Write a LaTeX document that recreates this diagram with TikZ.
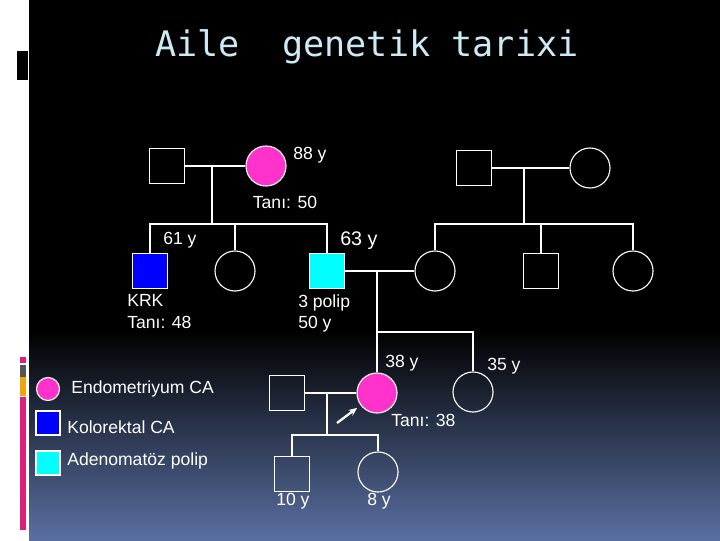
\documentclass[tikz,border=0pt]{standalone}
\usepackage{fontspec}
\setmainfont{Liberation Sans}
\newfontfamily\titlefont{DejaVu Sans Mono}
\usetikzlibrary{positioning, arrows.meta}

\definecolor{endo}{RGB}{255,51,204}
\definecolor{krkblue}{RGB}{0,0,255}
\definecolor{polipcyan}{RGB}{0,255,255}
\definecolor{titlecol}{RGB}{205,235,245}
\definecolor{bgbottom}{RGB}{90,112,162}
\definecolor{barpink}{RGB}{222,30,122}
\definecolor{bargrey}{RGB}{85,85,85}
\definecolor{barorange}{RGB}{240,165,10}

\begin{document}
\begin{tikzpicture}[x=0.025cm,y=-0.025cm]
\useasboundingbox (0,0) rectangle (720,540);
% background
\fill[white] (0,0) rectangle (720,540);
\fill[black] (29,0) rectangle (720,330);
\shade[top color=black,bottom color=bgbottom] (29,330) rectangle (720,540);
\fill[black] (17,51) rectangle (28,80);
\fill[barpink] (20,357) rectangle (26,363);
\fill[bargrey] (20,365) rectangle (26,377);
\fill[barorange] (20,377) rectangle (26,396);
\fill[barpink] (20,397) rectangle (26,530);

\node[font=\titlefont\fontsize{25}{29}\selectfont,text=titlecol,anchor=base] (title) at (367,56) {Aile\ \ genetik tarixi};

\begin{scope}[every node/.style={draw=white,line width=0.8pt,inner sep=0pt}]
    % generation I
    \node[minimum size=0.875cm] (gf1) at (167,166) {};
    \node[circle,minimum size=1cm,fill=endo] (gm1) at (266,166) {};
    \node[minimum size=0.875cm] (gf2) at (474,168) {};
    \node[circle,minimum size=1cm] (gm2) at (590,168) {};
    % generation II
    \node[minimum size=0.875cm,fill=krkblue] (krk) at (150,271) {};
    \node[circle,minimum size=1cm] (sis1) at (235,271) {};
    \node[minimum size=0.875cm,fill=polipcyan] (father) at (327,271) {};
    \node[circle,minimum size=1cm] (mother) at (435,271) {};
    \node[minimum size=0.875cm] (bro2) at (541,271) {};
    \node[circle,minimum size=1cm] (sis2) at (633,271) {};
    % generation III
    \node[circle,minimum size=1cm,fill=endo] (proband) at (377,393) {};
    \node[circle,minimum size=1cm] (sis3) at (473,392) {};
    \node[minimum size=0.875cm] (spouse) at (287,393) {};
    % generation IV
    \node[minimum size=0.875cm] (son) at (292,474) {};
    \node[circle,minimum size=1cm] (dau) at (378,472) {};
    % legend
    \node[circle,minimum size=0.575cm,fill=endo] (legendo) at (48,389) {};
    \node[minimum size=0.6cm,fill=krkblue] (legkrk) at (48,423) {};
    \node[minimum size=0.6cm,fill=polipcyan] (legpolip) at (48,463) {};
\end{scope}

\coordinate (c1) at (212,166);
\coordinate (s1) at (212,224);
\coordinate (c2) at (524,168);
\coordinate (s2) at (524,224);
\coordinate (c3) at (377,271);
\coordinate (s3) at (377,332);
\coordinate (c4) at (327,393);
\coordinate (s4) at (327,435);
\coordinate (arr) at (337,423);

\begin{scope}[every path/.style={draw=white,line width=0.8pt}]
    \path (gf1) -- (gm1);
    \path (c1) -- (s1) -| (krk);
    \path (s1) -| (sis1);
    \path (s1) -| (father);
    \path (gf2) -- (gm2);
    \path (c2) -- (s2) -| (mother);
    \path (s2) -| (bro2);
    \path (s2) -| (sis2);
    \path (father) -- (mother);
    \path (c3) -- (s3) -| (proband);
    \path (s3) -| (sis3);
    \path (spouse) -- (proband);
    \path (c4) -- (s4) -| (son);
    \path (s4) -| (dau);
    \path[line width=1.6pt,-{Stealth[length=6pt,width=5pt]},shorten >=3pt] (arr) -- (proband);
\end{scope}

\begin{scope}[every node/.style={text=white,font=\fontsize{12.5}{15.5}\selectfont,inner sep=0pt,anchor=west}]
    \node (l88) at (293,155) {88 y};
    \node[anchor=center] (t50) at (285,202) {Tanı: 50};
    \node (l61) at (163,240) {61 y};
    \node[font=\fontsize{14}{17}\selectfont] (l63) at (340,241) {63 y};
    \node[align=left,anchor=north west] (lkrk) at (127,294) {KRK\\Tanı: 48};
    \node[align=left,anchor=north west] (lpolip) at (298,294) {3 polip\\50 y};
    \node (l38) at (385,363) {38 y};
    \node (l35) at (487,366) {35 y};
    \node (t38) at (391,420) {Tanı: 38};
    \node (l10) at (276,501) {10 y};
    \node (l8) at (367,501) {8 y};
    \node (tendo) at (71,389) {Endometriyum CA};
    \node (tkrk) at (67,427) {Kolorektal CA};
    \node (tpolip) at (67,461) {Adenomatöz polip};
\end{scope}
\end{tikzpicture}
\end{document}
